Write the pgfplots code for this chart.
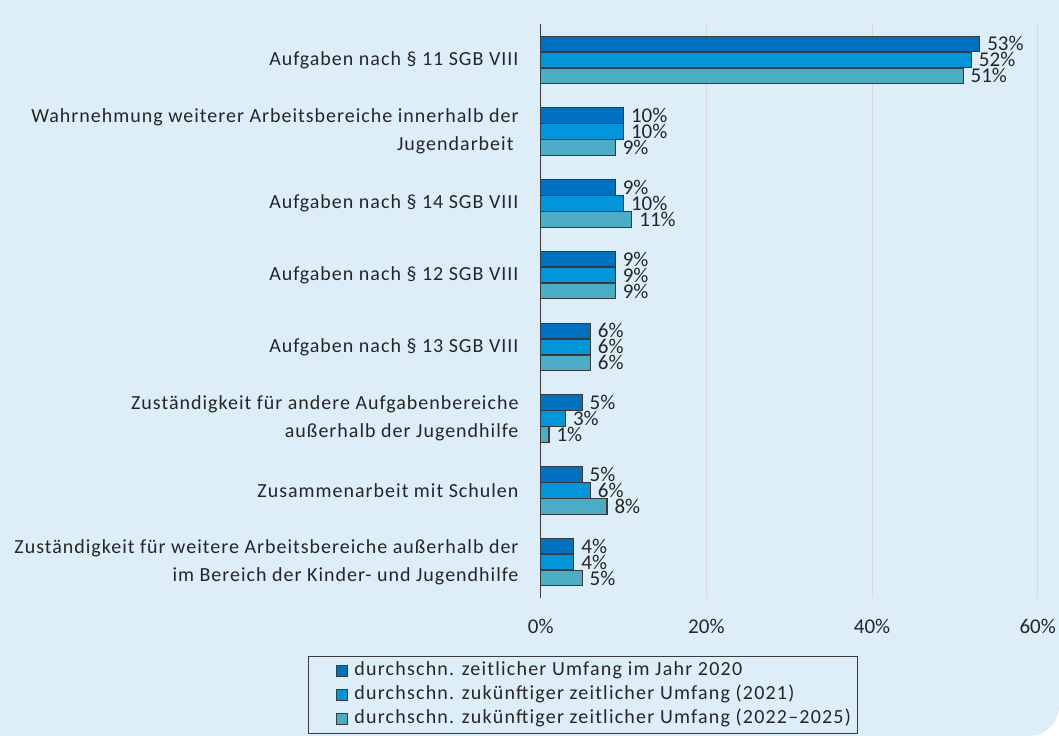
\documentclass[border=0pt]{standalone}
\usepackage{pgfplots}
\usepackage{pgfplotstable}
\pgfplotsset{compat=1.18}
\usepackage{fontspec}
\setmainfont{Carlito}
\newfontfamily\spaced{Carlito}[LetterSpace=5]
\newfontfamily\legspaced{Carlito}[LetterSpace=6]

\definecolor{bgblue}{HTML}{DDEEF9}
\definecolor{cA}{HTML}{0070C0}
\definecolor{cB}{HTML}{0096D9}
\definecolor{cC}{HTML}{4BACC6}
\definecolor{edge}{HTML}{3A3A3A}
\definecolor{txt}{HTML}{262626}
\definecolor{gridc}{HTML}{D9D9D9}

% rows from top to bottom
\pgfplotstableread{
y v
0 53
1 10
2 9
3 9
4 6
5 5
6 5
7 4
}\dataA
\pgfplotstableread{
y v
0 52
1 10
2 10
3 9
4 6
5 3
6 6
7 4
}\dataB
\pgfplotstableread{
y v
0 51
1 9
2 11
3 9
4 6
5 1
6 8
7 5
}\dataC

\begin{document}
\begin{tikzpicture}
\path[use as bounding box] (0bp,0bp) rectangle (1059bp,736bp);
\fill[bgblue] (0bp,736bp) -- (0bp,0bp) -- (1029bp,0bp) arc[start angle=-90,end angle=0,radius=30bp] -- (1059bp,736bp) -- cycle;
\begin{axis}[
  at={(540.7bp,138bp)}, anchor=south west,
  scale only axis, width=497bp, height=574bp,
  xbar, bar width=15.5bp,
  xmin=0, xmax=60,
  ymin=-0.5, ymax=7.5, y dir=reverse,
  xtick={0,20,40,60},
  xticklabel={\pgfmathprintnumber{\tick}\%},
  /pgf/number format/assume math mode=true,
  ytick={0,...,7},
  yticklabels={
    Aufgaben nach § 11 SGB VIII,
    {Wahrnehmung weiterer Arbeitsbereiche innerhalb der\\Jugendarbeit\hspace*{5bp}},
    Aufgaben nach § 14 SGB VIII,
    Aufgaben nach § 12 SGB VIII,
    Aufgaben nach § 13 SGB VIII,
    {Zuständigkeit für andere Aufgabenbereiche\\außerhalb der Jugendhilfe},
    Zusammenarbeit mit Schulen,
    {Zuständigkeit für weitere Arbeitsbereiche außerhalb der\\im Bereich der Kinder- und Jugendhilfe}},
  yticklabel style={align=right, inner sep=0pt, xshift=-22bp,
    font=\spaced\fontsize{20bp}{28bp}\selectfont, text=txt},
  xticklabel style={inner sep=0pt, yshift=-21.3bp,
    font=\fontsize{21bp}{24bp}\selectfont, text=txt},
  major tick length=0pt,
  axis lines*=left,
  x axis line style={draw=none},
  y axis line style={draw=edge, line width=1.2bp},
  xmajorgrids, grid style={gridc, line width=1bp},
  clip=false,
  every axis plot/.append style={draw=edge, line width=1.1bp},
  nodes near coords={\pgfmathprintnumber[fixed,precision=0]{\pgfplotspointmeta}\%},
  nodes near coords align=horizontal,
  every node near coord/.append style={font=\fontsize{21bp}{24bp}\selectfont, text=txt, inner xsep=7bp},
  legend style={at={(axis description cs:-0.4682,-0.101)}, anchor=north west,
    draw=edge, line width=0.8bp, fill=none, font=\legspaced\fontsize{20bp}{24bp}\selectfont,
    text=txt, inner xsep=7bp, inner ysep=4.5bp, row sep=4bp, column sep=6bp,
    nodes={inner sep=0bp, text height=15bp, text depth=5bp}},
  legend cell align=left,
  legend image code/.code={\path (0bp,0bp); \draw[#1,line width=1bp] (21bp,-5.5bp) rectangle (32bp,5.5bp);},
]
\addplot[fill=cA, bar shift=16bp] table[x=v,y=y] {\dataA};
\addlegendentry{durchschn. zeitlicher Umfang im Jahr 2020}
\addplot[fill=cB, bar shift=0bp] table[x=v,y=y] {\dataB};
\addlegendentry{durchschn. zukünftiger zeitlicher Umfang (2021)}
\addplot[fill=cC, bar shift=-16bp] table[x=v,y=y] {\dataC};
\addlegendentry{durchschn. zukünftiger zeitlicher Umfang (2022–2025)}
\end{axis}
\end{tikzpicture}
\end{document}
